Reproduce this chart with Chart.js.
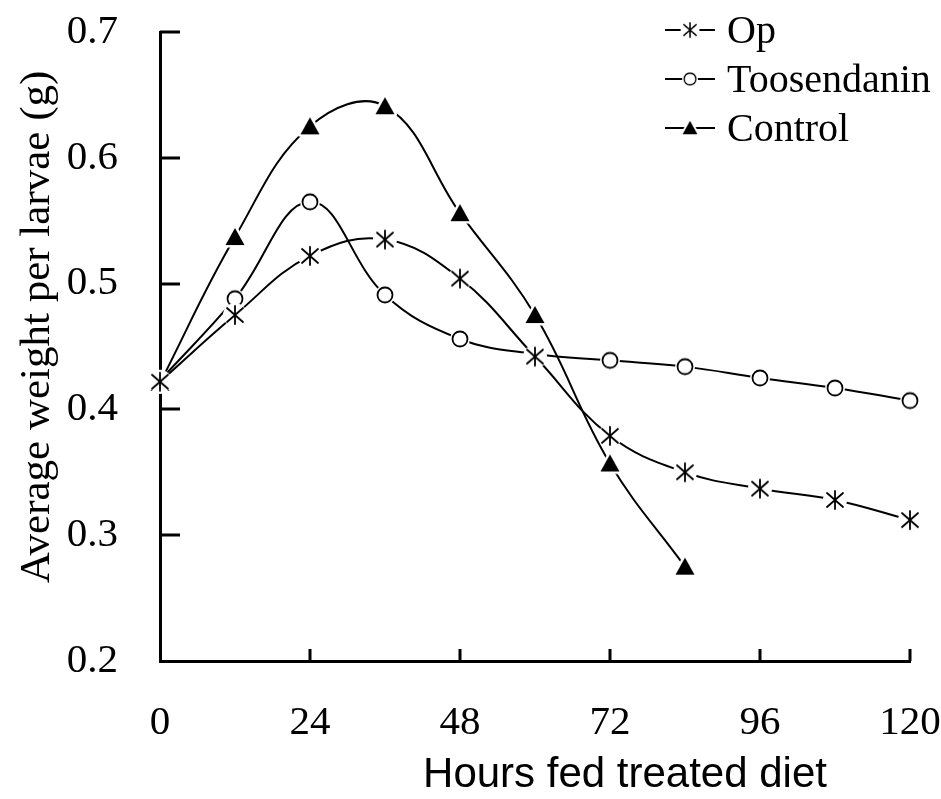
<!DOCTYPE html>
<html>
<head>
<meta charset="utf-8">
<script src="https://cdn.jsdelivr.net/npm/chart.js@4.4.0/dist/chart.umd.min.js"></script>
<style>
  html, body { margin: 0; padding: 0; background: #fff; }
  #wrap { width: 941px; height: 799px; }
</style>
</head>
<body>
<div id="wrap"><canvas id="chart"></canvas></div>
<script>
// hours fed treated diet
const hours = [0, 12, 24, 36, 48, 60, 72, 84, 96, 108, 120];
// average weight per larvae (g)
const opWeight = [0.422, 0.475, 0.522, 0.535, 0.504, 0.442, 0.379, 0.350, 0.337, 0.328, 0.312];
const toosendaninWeight = [0.423, 0.488, 0.565, 0.491, 0.456, 0.444, 0.439, 0.434, 0.425, 0.417, 0.407];
const controlWeight = [0.421, 0.537, 0.625, 0.641, 0.556, 0.475, 0.357, 0.275];
const seriesNames = ['Op', 'Toosendanin', 'Control'];
const xTicks = [0, 24, 48, 72, 96, 120];
const yTicks = [0.2, 0.3, 0.4, 0.5, 0.6, 0.7];
const xTitle = 'Hours fed treated diet';
const yTitle = 'Average weight per larvae (g)';

const serif = '"Liberation Serif", "Times New Roman", serif';
const sans = '"Liberation Sans", Arial, sans-serif';

// marker pictures, white halo first so the line breaks around the marker
function marker(kind) {
    const c = document.createElement('canvas');
    c.width = c.height = 28;
    const g = c.getContext('2d');
    const m = 14;
    g.lineCap = 'round';
    if (kind === 'star') {
        g.fillStyle = '#fff';
        g.beginPath(); g.arc(m, m, 12, 0, Math.PI * 2); g.fill();
        g.strokeStyle = '#000'; g.lineWidth = 1.8;
        g.beginPath();
        g.moveTo(m, m - 9); g.lineTo(m, m + 9);
        g.moveTo(m - 8, m - 7); g.lineTo(m + 8, m + 7);
        g.moveTo(m + 8, m - 7); g.lineTo(m - 8, m + 7);
        g.stroke();
    } else if (kind === 'circle') {
        g.fillStyle = '#fff';
        g.beginPath(); g.arc(m, m, 10, 0, Math.PI * 2); g.fill();
        g.strokeStyle = '#000'; g.lineWidth = 1.8;
        g.beginPath(); g.arc(m, m, 7.5, 0, Math.PI * 2); g.stroke();
    } else {
        g.beginPath();
        g.moveTo(m, m - 9); g.lineTo(m + 9.5, m + 8); g.lineTo(m - 9.5, m + 8); g.closePath();
        g.strokeStyle = '#fff'; g.lineWidth = 5; g.lineJoin = 'round'; g.stroke();
        g.fillStyle = '#000'; g.fill();
    }
    return c;
}
const markers = [marker('star'), marker('circle'), marker('triangle')];

const pts = arr => arr.map((v, i) => ({ x: hours[i], y: v }));

// fixed scale box size, no extra label overflow padding
const fixBox = (w, h) => s => {
    if (w) s.width = w;
    if (h) s.height = h;
    s.paddingTop = s.paddingBottom = s.paddingLeft = s.paddingRight = 0;
};

// inward tick marks + axis titles
const axisDecor = {
    id: 'axisDecor',
    afterDraw(chart) {
        const { ctx, chartArea: a, scales: { x, y } } = chart;
        ctx.save();
        ctx.strokeStyle = '#000';
        ctx.lineWidth = 3;
        ctx.beginPath();
        yTicks.slice(1).forEach(v => {
            const py = Math.round(y.getPixelForValue(v));
            ctx.moveTo(a.left, py); ctx.lineTo(a.left + 20, py);
        });
        xTicks.slice(1).forEach(v => {
            const px = Math.round(x.getPixelForValue(v));
            ctx.moveTo(px, a.bottom); ctx.lineTo(px, a.bottom - 12);
        });
        ctx.stroke();

        ctx.fillStyle = '#000';
        ctx.textAlign = 'center';
        ctx.textBaseline = 'middle';
        ctx.font = '42px ' + sans;
        ctx.fillText(xTitle, a.left + a.width * 0.62, a.bottom + 114);
        ctx.translate(38, a.top + a.height * 0.469);
        ctx.rotate(-Math.PI / 2);
        ctx.font = '43px ' + serif;
        ctx.fillText(yTitle, 0, 0);
        ctx.restore();
    }
};

const legendBox = {
    id: 'legendBox',
    afterDraw(chart) {
        const { ctx, chartArea: a } = chart;
        const lx = a.right - 245;
        ctx.save();
        ctx.font = '40px ' + serif;
        ctx.fillStyle = '#000';
        ctx.textBaseline = 'middle';
        seriesNames.forEach((name, i) => {
            const ly = a.top - 2 + i * 49;
            ctx.strokeStyle = '#000';
            ctx.lineWidth = 2;
            ctx.beginPath(); ctx.moveTo(lx, ly); ctx.lineTo(lx + 50, ly); ctx.stroke();
            const s = 22;
            ctx.drawImage(markers[i], lx + 25 - s / 2, ly - s / 2, s, s);
            ctx.fillText(name, lx + 62, ly + 2);
        });
        ctx.restore();
    }
};

new Chart(document.getElementById('chart'), {
    type: 'line',
    data: {
        datasets: [
            { label: seriesNames[0], data: pts(opWeight), pointStyle: markers[0] },
            { label: seriesNames[1], data: pts(toosendaninWeight), pointStyle: markers[1] },
            { label: seriesNames[2], data: pts(controlWeight), pointStyle: markers[2] }
        ].map(d => Object.assign(d, {
            borderColor: '#000',
            borderWidth: 2,
            tension: 0.4,
            fill: false,
            clip: false,
            pointRadius: 10
        }))
    },
    options: {
        responsive: true,
        maintainAspectRatio: false,
        animation: false,
        layout: { autoPadding: false, padding: { left: 0, top: 32, right: 31, bottom: 0 } },
        plugins: { legend: { display: false }, tooltip: { enabled: false } },
        scales: {
            x: {
                type: 'linear',
                min: 0, max: 120,
                afterBuildTicks: s => { s.ticks = xTicks.map(v => ({ value: v })); },
                afterFit: fixBox(0, 138),
                grid: { display: false, drawTicks: false },
                border: { display: true, color: '#000', width: 3 },
                ticks: { color: '#000', font: { family: serif, size: 41 }, padding: 38, maxRotation: 0 }
            },
            y: {
                min: 0.2, max: 0.7,
                afterBuildTicks: s => { s.ticks = yTicks.map(v => ({ value: v })); },
                afterFit: fixBox(160, 0),
                grid: { display: false, drawTicks: false },
                border: { display: true, color: '#000', width: 3 },
                ticks: { color: '#000', font: { family: serif, size: 41 }, padding: 42, callback: v => v.toFixed(1) }
            }
        }
    },
    plugins: [axisDecor, legendBox]
});
</script>
</body>
</html>
